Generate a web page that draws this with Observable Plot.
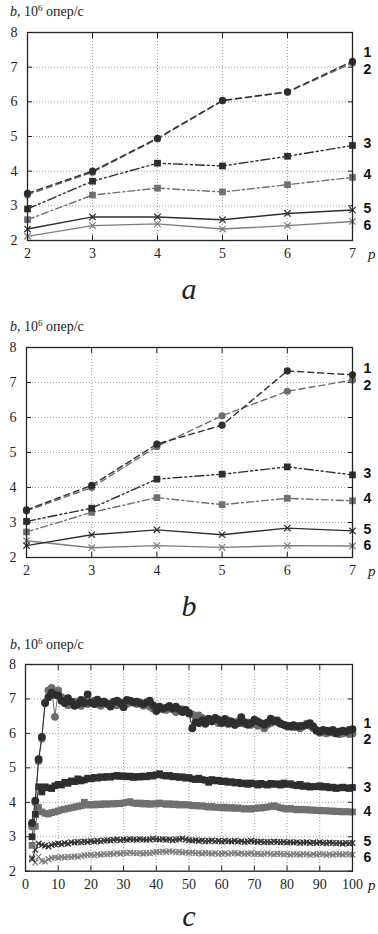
<!DOCTYPE html>
<html><head><meta charset="utf-8">
<script src="https://cdn.jsdelivr.net/npm/d3@7"></script>
<script src="https://cdn.jsdelivr.net/npm/@observablehq/plot@0.6"></script>
<style>
html,body{margin:0;padding:0;background:#fff;}
body{width:378px;height:934px;position:relative;overflow:hidden;font-family:"Liberation Serif",serif;color:#222;}
.svgwrap{position:absolute;left:0;width:378px;}
.svgwrap svg{overflow:visible;display:block;}
.svgwrap svg text{font-family:"Liberation Serif",serif;}
.svgwrap svg g[font-weight="bold"] text{font-family:"Liberation Sans",sans-serif;font-weight:bold;}
.title{position:absolute;left:10px;font-size:14px;line-height:14px;white-space:nowrap;}
.title sup{font-size:9px;vertical-align:5px;line-height:0;}
.cap{position:absolute;left:0;width:378px;text-align:center;font-style:italic;font-size:30px;line-height:20px;}
.pl{position:absolute;left:368px;font-style:italic;font-size:15px;line-height:15px;}
</style></head><body>
<script>
// ---------- data ----------
const pAB = [2, 3, 4, 5, 6, 7];
const yTicks = [2, 3, 4, 5, 6, 7, 8];
const seriesNames = ["1", "2", "3", "4", "5", "6"];

// panel a
const a1 = [3.36, 4.00, 4.95, 6.04, 6.29, 7.17];
const a2 = [3.32, 3.97, 4.93, 6.03, 6.28, 7.12];
const a3 = [2.91, 3.71, 4.23, 4.15, 4.43, 4.74];
const a4 = [2.60, 3.31, 3.51, 3.40, 3.61, 3.82];
const a5 = [2.33, 2.68, 2.68, 2.60, 2.78, 2.88];
const a6 = [2.12, 2.43, 2.48, 2.33, 2.43, 2.55];
const aLabelY = [7.42, 6.93, 4.80, 3.90, 2.92, 2.43];

// panel b
const b1 = [3.36, 4.06, 5.24, 5.78, 7.33, 7.22];
const b2 = [3.33, 4.00, 5.17, 6.05, 6.75, 7.07];
const b3 = [3.03, 3.41, 4.24, 4.38, 4.59, 4.36];
const b4 = [2.73, 3.29, 3.71, 3.51, 3.69, 3.62];
const b5 = [2.34, 2.65, 2.79, 2.65, 2.84, 2.76];
const b6 = [2.48, 2.28, 2.34, 2.29, 2.34, 2.33];
const bLabelY = [7.40, 6.90, 4.40, 3.68, 2.79, 2.33];

// panel c  (p = 2 … 100)
const pC = d3.range(2, 101);
const xTicksC = [0, 10, 20, 30, 40, 50, 60, 70, 80, 90, 100];
const c1 = [3.40,4.05,5.25,5.90,6.88,7.05,7.18,7.12,7.10,6.95,
  6.88,7.02,6.92,6.80,6.85,6.97,6.88,7.13,6.90,6.85,
  6.98,6.88,6.92,6.85,6.78,6.92,6.95,6.88,6.76,6.97,
  6.95,6.90,6.92,6.88,6.85,6.90,6.95,6.82,6.65,6.78,
  6.72,6.75,6.80,6.72,6.78,6.70,6.62,6.68,6.58,6.15,
  6.32,6.30,6.38,6.28,6.42,6.35,6.45,6.40,6.30,6.42,
  6.28,6.35,6.25,6.30,6.47,6.32,6.25,6.30,6.40,6.35,
  6.30,6.25,6.32,6.43,6.35,6.38,6.28,6.25,6.22,6.20,
  6.24,6.20,6.22,6.22,6.25,6.30,6.20,6.08,6.05,6.10,
  6.08,6.05,6.10,6.00,6.05,6.08,6.05,6.10,6.12];
const c2 = [3.30,4.00,5.20,5.85,6.90,7.25,7.32,6.48,7.25,7.05,
  6.90,6.82,6.85,6.92,6.88,6.80,6.95,6.85,6.90,6.95,
  6.85,6.80,6.92,6.88,6.83,6.87,6.82,6.90,6.88,6.85,
  6.90,6.92,6.85,6.90,6.80,6.85,6.78,6.72,6.70,6.75,
  6.70,6.68,6.75,6.70,6.62,6.65,6.70,6.66,6.60,6.55,
  6.48,6.52,6.45,6.40,6.42,6.35,6.38,6.30,6.35,6.32,
  6.38,6.30,6.25,6.35,6.30,6.28,6.32,6.25,6.30,6.22,
  6.28,6.15,6.25,6.30,6.38,6.32,6.30,6.25,6.20,6.22,
  6.18,6.20,6.15,6.22,6.28,6.22,6.15,6.10,6.02,6.05,
  6.00,6.08,6.02,6.05,5.98,6.00,6.05,5.98,6.00];
const c3 = [3.00,3.65,4.45,4.30,4.45,4.42,4.40,4.48,4.52,4.50,
  4.58,4.55,4.62,4.60,4.68,4.62,4.65,4.70,4.68,4.72,
  4.70,4.74,4.72,4.75,4.73,4.76,4.78,4.75,4.77,4.74,
  4.76,4.72,4.75,4.73,4.76,4.74,4.78,4.76,4.80,4.83,
  4.78,4.76,4.78,4.74,4.75,4.72,4.74,4.70,4.72,4.68,
  4.66,4.70,4.66,4.64,4.58,4.66,4.62,4.64,4.60,4.62,
  4.58,4.60,4.56,4.58,4.54,4.56,4.52,4.56,4.54,4.50,
  4.55,4.52,4.50,4.55,4.52,4.54,4.50,4.56,4.52,4.54,
  4.50,4.48,4.52,4.46,4.48,4.44,4.46,4.45,4.48,4.44,
  4.46,4.42,4.44,4.40,4.42,4.44,4.42,4.40,4.43];
const c4 = [2.75,3.30,3.85,3.72,3.68,3.66,3.70,3.72,3.75,3.78,
  3.80,3.82,3.84,3.86,3.88,3.90,4.00,3.92,3.94,3.92,
  3.95,3.93,3.96,3.94,3.96,3.95,3.97,3.96,3.98,4.00,
  4.02,3.98,3.96,3.98,3.95,3.97,3.94,3.96,3.95,3.98,
  3.96,3.94,3.96,3.93,3.95,3.92,3.94,3.92,3.93,3.90,
  3.91,3.89,3.90,3.88,3.86,3.88,3.85,3.86,3.84,3.86,
  3.83,3.85,3.82,3.84,3.82,3.80,3.82,3.80,3.82,3.84,
  3.83,3.85,3.86,3.88,3.90,3.87,3.84,3.82,3.80,3.82,
  3.80,3.78,3.80,3.78,3.79,3.77,3.78,3.76,3.77,3.75,
  3.76,3.74,3.75,3.73,3.74,3.72,3.73,3.72,3.72];
const c5 = [2.35,2.62,2.80,2.76,2.74,2.72,2.76,2.78,2.80,2.78,
  2.82,2.80,2.84,2.83,2.85,2.84,2.86,2.85,2.87,2.86,
  2.88,2.87,2.89,2.90,2.89,2.91,2.92,2.90,2.92,2.91,
  2.93,2.92,2.91,2.93,2.92,2.91,2.92,2.94,2.93,2.92,
  2.93,2.91,2.92,2.90,2.92,2.93,2.95,2.92,2.90,2.89,
  2.90,2.88,2.89,2.87,2.88,2.89,2.87,2.88,2.86,2.88,
  2.87,2.86,2.88,2.86,2.87,2.85,2.86,2.88,2.86,2.85,
  2.86,2.84,2.85,2.84,2.86,2.85,2.84,2.85,2.83,2.84,
  2.83,2.84,2.82,2.83,2.84,2.82,2.83,2.82,2.84,2.82,
  2.81,2.83,2.82,2.81,2.82,2.80,2.82,2.81,2.82];
const c6 = [2.40,2.25,2.42,2.30,2.28,2.35,2.38,2.40,2.39,2.41,
  2.40,2.42,2.41,2.43,2.42,2.44,2.46,2.47,2.48,2.46,
  2.49,2.48,2.50,2.49,2.51,2.50,2.52,2.51,2.53,2.52,
  2.54,2.53,2.52,2.53,2.51,2.53,2.52,2.54,2.56,2.55,
  2.57,2.56,2.58,2.57,2.55,2.56,2.54,2.55,2.53,2.54,
  2.52,2.53,2.51,2.53,2.52,2.51,2.52,2.50,2.51,2.52,
  2.50,2.52,2.53,2.51,2.52,2.50,2.51,2.52,2.50,2.51,
  2.49,2.50,2.52,2.50,2.49,2.51,2.50,2.49,2.50,2.48,
  2.50,2.49,2.48,2.50,2.49,2.47,2.49,2.48,2.50,2.49,
  2.47,2.49,2.48,2.50,2.49,2.48,2.50,2.49,2.48];
const cLabelY = [6.30, 5.82, 4.44, 3.74, 2.87, 2.41];

// ---------- styles ----------
const DARK = "#2e2e2e", GRAY = "#6c6c6c", GRAY2 = "#7c7c7c";
const styles = [
  {color: DARK, dash: "6,4", symbol: "circle"},
  {color: GRAY, dash: "6,4", symbol: "circle"},
  {color: DARK, dash: "9,3,2,3,2,3", symbol: "square"},
  {color: "#707070", dash: "7,3,2,3", symbol: "square"},
  {color: DARK, dash: null, symbol: "times"},
  {color: GRAY2, dash: null, symbol: "times"}
];

function panel(cfg) {
  const {p, series, labelY, xDomain, xTicks, top, mL, plotH, dense, cap, yPad} = cfg;
  const mT = 32, mB = 30, mR = 26;
  const tickFont = {fontFamily: "Liberation Serif", fontSize: 14, fill: "#222"};
  const marks = [
    Plot.gridX(xTicks, {stroke: "#a0a0a0", strokeOpacity: 1, strokeDasharray: "1,2", strokeWidth: 1}),
    Plot.gridY(yTicks, {stroke: "#a0a0a0", strokeOpacity: 1, strokeDasharray: "1,2", strokeWidth: 1}),
    Plot.axisX(xTicks, {anchor: "bottom", tickSize: -5, tickPadding: 13, label: null, stroke: "#222", ...tickFont}),
    Plot.axisX(xTicks, {anchor: "top", tickSize: -5, tickFormat: () => "", label: null, stroke: "#222"}),
    Plot.axisY(yTicks, {anchor: "left", tickSize: -5, tickPadding: yPad, label: null, stroke: "#222", ...tickFont}),
    Plot.axisY(yTicks, {anchor: "right", tickSize: -5, tickFormat: () => "", label: null, stroke: "#222"})
  ];
  for (const i of [5, 4, 3, 2, 1, 0]) {
    const st = styles[i];
    const data = series[i].map((v, j) => ({p: p[j], b: v}));
    marks.push(Plot.line(data, {x: "p", y: "b", stroke: st.color, strokeWidth: dense ? 1 : 1.4,
      strokeDasharray: dense ? null : st.dash}));
    let r;
    if (st.symbol === "circle") r = dense ? 3.9 : 3.6;
    else if (st.symbol === "square") r = 3.8;
    else r = dense ? 2.7 : 3;
    const filled = st.symbol !== "times";
    marks.push(Plot.dot(data, {x: "p", y: "b", symbol: st.symbol, r,
      fill: filled ? st.color : "none", stroke: filled ? "none" : st.color, strokeWidth: 1.2}));
  }
  marks.push(Plot.frame({stroke: "#222", strokeWidth: 1.3}));
  marks.push(Plot.text(seriesNames, {x: xDomain[1], y: (d, i) => labelY[i], text: d => d, dx: 11,
    textAnchor: "start", fontWeight: "bold", fontFamily: "Liberation Sans", fontSize: 14, fill: "#111"}));

  const chart = Plot.plot({
    width: 378, height: mT + plotH + mB,
    marginTop: mT, marginBottom: mB, marginLeft: mL, marginRight: mR,
    x: {domain: xDomain},
    y: {domain: [2, 8]},
    style: {fontFamily: "Liberation Serif", fontSize: "14px", color: "#222", background: "transparent", overflow: "visible"},
    marks
  });
  const wrap = document.createElement("div");
  wrap.className = "svgwrap";
  wrap.style.top = top + "px";
  wrap.appendChild(chart);
  document.body.appendChild(wrap);

  const frameTop = top + mT, frameBottom = top + mT + plotH;
  const t = document.createElement("div");
  t.className = "title";
  t.style.top = (frameTop - 15 - 11.7) + "px";
  t.innerHTML = "<i>b</i>, 10<sup>6</sup> опер/с";
  document.body.appendChild(t);

  const pl = document.createElement("div");
  pl.className = "pl";
  pl.style.top = (frameBottom + 20 - 12.6) + "px";
  pl.textContent = "p";
  document.body.appendChild(pl);

  const c = document.createElement("div");
  c.className = "cap";
  const baseline = Math.min(frameBottom + 59, 926);
  c.style.top = (baseline - 20.1) + "px";
  c.textContent = cap;
  document.body.appendChild(c);
}

panel({p: pAB, series: [a1, a2, a3, a4, a5, a6], labelY: aLabelY, xDomain: [2, 7], xTicks: pAB,
  top: 0, mL: 27, plotH: 208, dense: false, cap: "a", yPad: 15});
panel({p: pAB, series: [b1, b2, b3, b4, b5, b6], labelY: bLabelY, xDomain: [2, 7], xTicks: pAB,
  top: 314.7, mL: 26, plotH: 210, dense: false, cap: "b", yPad: 15});
panel({p: pC, series: [c1, c2, c3, c4, c5, c6], labelY: cLabelY, xDomain: [0, 100], xTicks: xTicksC,
  top: 632.3, mL: 25, plotH: 206.7, dense: true, cap: "c", yPad: 14.5});
</script>
</body></html>
